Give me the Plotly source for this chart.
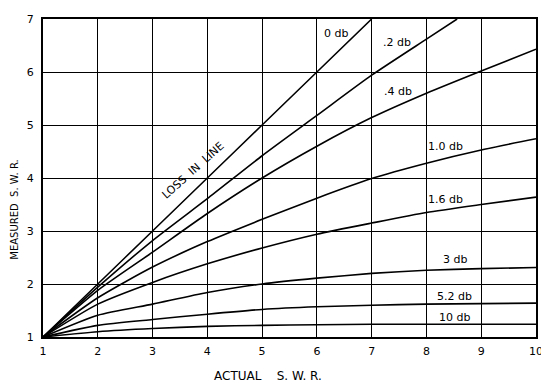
import plotly.graph_objects as go

# Data
actual_swr = [1, 2, 3, 4, 5, 6, 7, 8, 9, 10]

loss_0_x = [1, 2, 3, 4, 5, 6, 7]
loss_0_y = [1, 2, 3, 4, 5, 6, 7]

loss_02_x = [1, 2, 3, 4, 5, 6, 7, 8, 8.56]
loss_02_y = [1, 1.94, 2.82, 3.61, 4.42, 5.18, 5.94, 6.62, 7.0]

loss_04_y = [1, 1.88, 2.6, 3.33, 4.0, 4.6, 5.14, 5.6, 6.02, 6.43]
loss_10_y = [1, 1.74, 2.32, 2.8, 3.22, 3.62, 3.99, 4.28, 4.53, 4.74]
loss_16_y = [1, 1.62, 2.03, 2.38, 2.68, 2.94, 3.15, 3.35, 3.5, 3.64]
loss_3_y = [1, 1.41, 1.62, 1.84, 2.0, 2.11, 2.2, 2.26, 2.29, 2.31]
loss_52_y = [1, 1.22, 1.33, 1.43, 1.52, 1.57, 1.6, 1.62, 1.63, 1.64]
loss_100_y = [1, 1.1, 1.16, 1.2, 1.22, 1.23, 1.24, 1.24, 1.24, 1.24]

curve_labels = ["0 db", ".2 db", ".4 db", "1.0 db", "1.6 db", "3 db", "5.2 db", "10 db"]
label_x = [6.35, 7.46, 7.48, 8.35, 8.35, 8.52, 8.52, 8.52]
label_y = [6.72, 6.56, 5.63, 4.6, 3.6, 2.46, 1.76, 1.37]

x_ticks = [1, 2, 3, 4, 5, 6, 7, 8, 9, 10]
y_ticks = [1, 2, 3, 4, 5, 6, 7]

FONT = "DejaVu Sans"

series = [
    (loss_0_x, loss_0_y),
    (loss_02_x, loss_02_y),
    (actual_swr, loss_04_y),
    (actual_swr, loss_10_y),
    (actual_swr, loss_16_y),
    (actual_swr, loss_3_y),
    (actual_swr, loss_52_y),
    (actual_swr, loss_100_y),
]

fig = go.Figure()
for (xs, ys), name in zip(series, curve_labels):
    fig.add_trace(go.Scatter(
        x=xs, y=ys, mode="lines", name=name,
        line=dict(color="black", width=1.6, shape="spline", smoothing=0.6),
        showlegend=False, hoverinfo="skip",
    ))

for t, lx, ly in zip(curve_labels, label_x, label_y):
    fig.add_annotation(x=lx, y=ly, text=t, showarrow=False,
                       font=dict(family=FONT, size=11, color="black"))

fig.add_annotation(x=3.74, y=4.14, text="LOSS  IN  LINE", showarrow=False,
                   textangle=-42, font=dict(family=FONT, size=11, color="black"))

fig.add_annotation(xref="paper", yref="paper", x=-0.057, y=0.40,
                   xanchor="center", yanchor="middle",
                   text="MEASURED  S. W. R.", showarrow=False, textangle=-90,
                   font=dict(family=FONT, size=10, color="black"))
fig.add_annotation(xref="paper", yref="paper", x=0.456, y=-0.123,
                   xanchor="center", yanchor="middle",
                   text="ACTUAL    S. W. R.", showarrow=False,
                   font=dict(family=FONT, size=12, color="black"))

fig.update_xaxes(range=[1, 10], tickvals=x_ticks, ticktext=[str(v) for v in x_ticks],
                 showgrid=True, gridcolor="black", gridwidth=1,
                 showline=True, linecolor="black", linewidth=2, mirror=True,
                 zeroline=False, ticks="", ticklabelstandoff=3,
                 tickfont=dict(family=FONT, size=11, color="black"))
fig.update_yaxes(range=[1, 7], tickvals=y_ticks, ticktext=[str(v) for v in y_ticks],
                 showgrid=True, gridcolor="black", gridwidth=1,
                 showline=True, linecolor="black", linewidth=2, mirror=True,
                 zeroline=False, ticks="", ticklabelstandoff=5,
                 tickfont=dict(family=FONT, size=11, color="black"))

# page body has an 8px default margin, so the figure is sized/margined to compensate
fig.update_layout(
    width=541, height=381,
    margin=dict(l=35, r=13, t=5, b=52),
    plot_bgcolor="white", paper_bgcolor="white",
    font=dict(family=FONT, color="black"),
)

fig.write_html("out.html")
